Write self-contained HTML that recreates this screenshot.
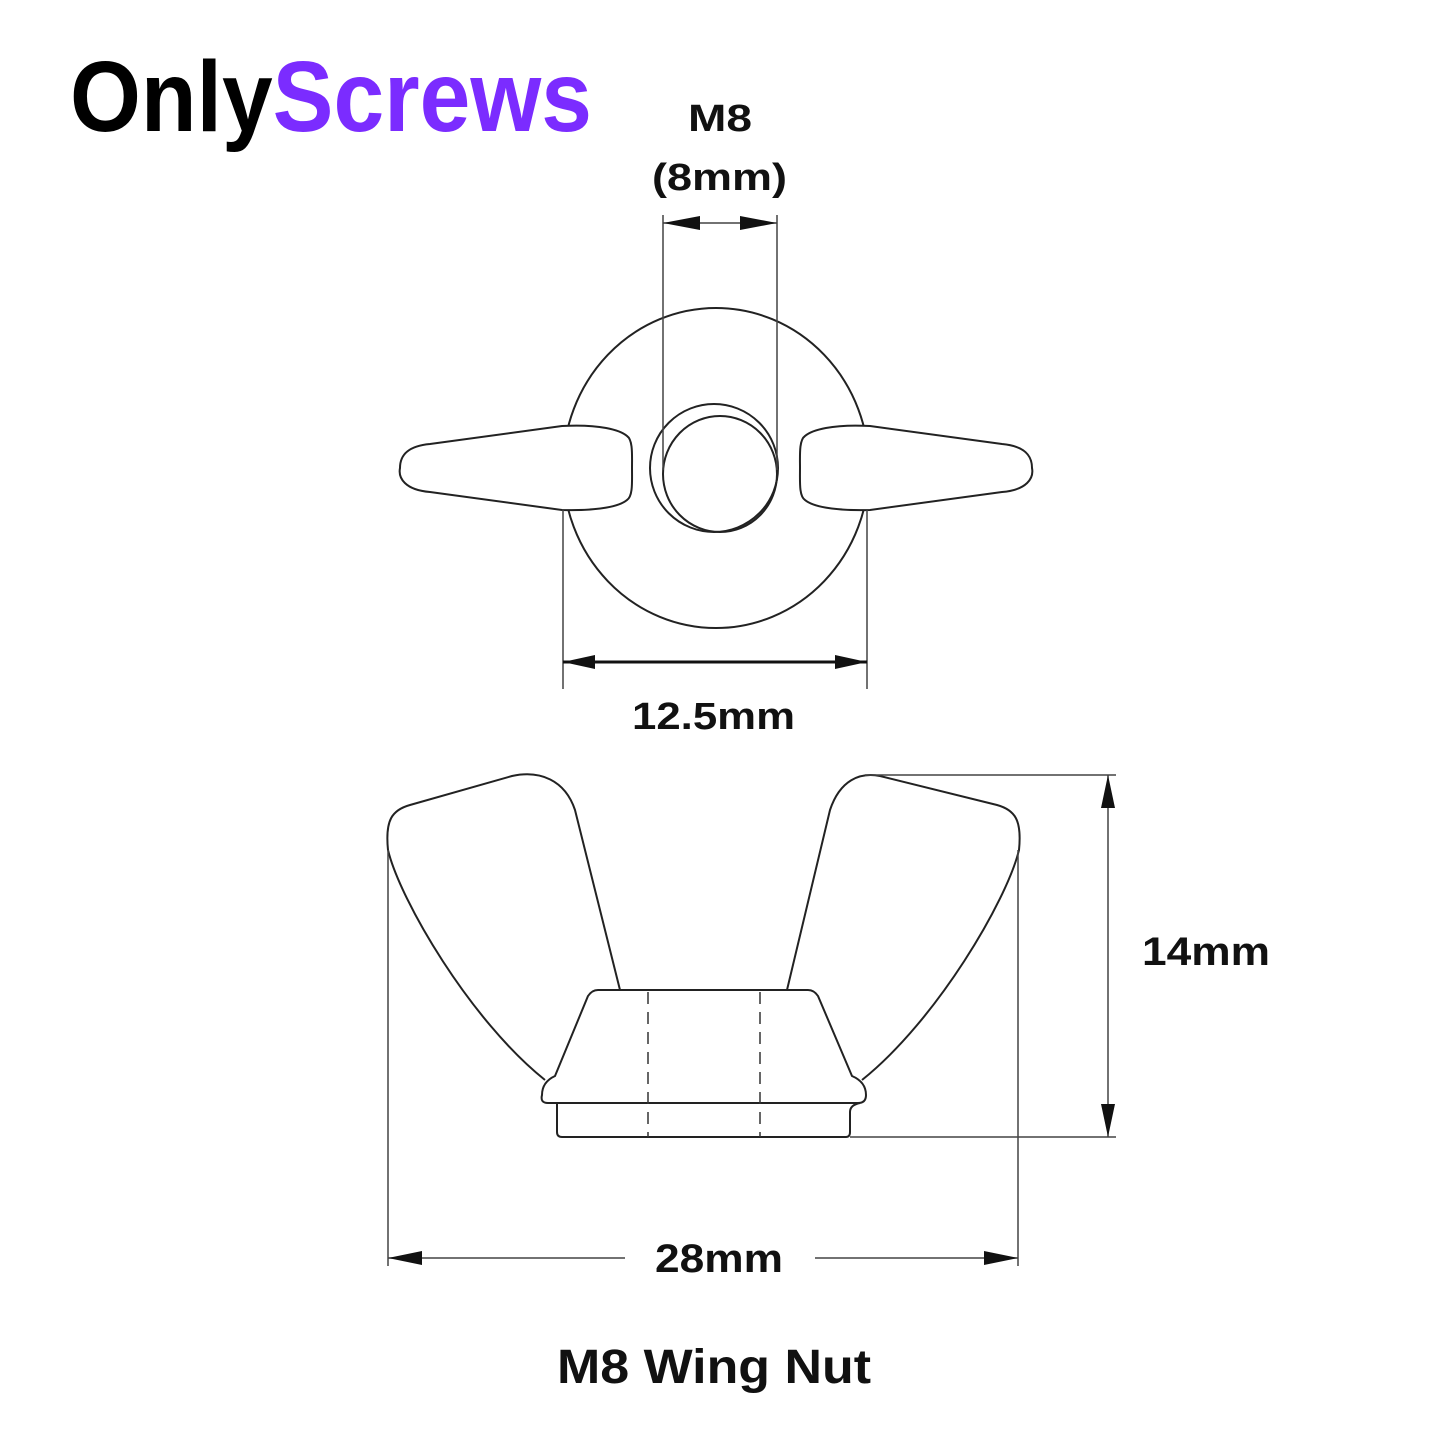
<!DOCTYPE html>
<html><head><meta charset="utf-8"><style>html,body{margin:0;padding:0;background:#fff}svg{display:block}</style></head>
<body>
<svg width="1445" height="1445" viewBox="0 0 1445 1445" xmlns="http://www.w3.org/2000/svg" font-family="Liberation Sans, sans-serif" font-weight="bold">
<rect width="1445" height="1445" fill="#fff"/>
<text x="70" y="131" font-size="100" textLength="522" lengthAdjust="spacingAndGlyphs"><tspan fill="#000">Only</tspan><tspan fill="#7B2CFF">Screws</tspan></text>
<g fill="#111" lengthAdjust="spacingAndGlyphs">
<text x="688" y="131" font-size="38" textLength="64" lengthAdjust="spacingAndGlyphs">M8</text>
<text x="652" y="190" font-size="38" textLength="135" lengthAdjust="spacingAndGlyphs">(8mm)</text>
<text x="632" y="729" font-size="38" textLength="163" lengthAdjust="spacingAndGlyphs">12.5mm</text>
<text x="655" y="1272" font-size="40" textLength="128" lengthAdjust="spacingAndGlyphs">28mm</text>
<text x="1142" y="965" font-size="40" textLength="128" lengthAdjust="spacingAndGlyphs">14mm</text>
<text x="557" y="1383" font-size="48" textLength="314" lengthAdjust="spacingAndGlyphs">M8 Wing Nut</text>
</g>
<g fill="none" stroke="#222" stroke-width="2">
<ellipse cx="716" cy="468" rx="153" ry="160"/>
<ellipse cx="714" cy="468" rx="64" ry="64"/>
<ellipse cx="720" cy="474" rx="57" ry="58"/>
<path d="M562 426 C600 424 620 430 627 436 C633 440 632 455 632 468 C632 482 633 496 627 500 C620 506 600 511 562 510 L430 492 C405 490 398 478 400 468 C400 455 408 446 430 444 Z" fill="#fff"/>
<path d="M870 426 C832 424 812 430 805 436 C799 440 800 455 800 468 C800 482 799 496 805 500 C812 506 832 511 870 510 L1002 492 C1027 490 1034 478 1032 468 C1032 455 1024 446 1002 444 Z" fill="#fff"/>
<path d="M545 1080 C470 1020 400 900 388 850 C385 820 392 810 410 805 L512 776 C540 770 565 780 575 810 L620 990"/>
<path d="M862 1080 C937 1020 1007 900 1019 850 C1022 820 1015 810 997 805 L880 776 C860 772 840 780 830 810 L787 990"/>
<path d="M598 990 L808 990 Q814 990 818 996 L852 1076 Q866 1082 866 1095 Q866 1103 858 1103 L548 1103 Q540 1103 542 1095 Q542 1082 555 1076 L588 996 Q592 990 598 990 Z"/>
<path d="M557 1103 L557 1132 Q557 1137 562 1137 L846 1137 Q850 1137 850 1132 L850 1112 Q850 1105 860 1103"/>
</g>
<g stroke="#333" stroke-width="1.5" stroke-dasharray="12 8" fill="none">
<line x1="648" y1="992" x2="648" y2="1137"/>
<line x1="760" y1="992" x2="760" y2="1137"/>
</g>
<g stroke="#444" stroke-width="1.5" fill="none">
<line x1="663" y1="215" x2="663" y2="470"/>
<line x1="777" y1="215" x2="777" y2="470"/>
<line x1="663" y1="223" x2="777" y2="223"/>
<line x1="563" y1="510" x2="563" y2="689"/>
<line x1="867" y1="510" x2="867" y2="689"/>
<line x1="388" y1="850" x2="388" y2="1266"/>
<line x1="1018" y1="850" x2="1018" y2="1266"/>
<line x1="388" y1="1258" x2="625" y2="1258"/>
<line x1="815" y1="1258" x2="1018" y2="1258"/>
<line x1="865" y1="775" x2="1116" y2="775"/>
<line x1="850" y1="1137" x2="1116" y2="1137"/>
<line x1="1108" y1="775" x2="1108" y2="1137"/>
</g>
<line x1="563" y1="662" x2="867" y2="662" stroke="#111" stroke-width="3"/>
<g fill="#111">
<polygon points="663,223 700,216 700,230"/>
<polygon points="777,223 740,216 740,230"/>
<polygon points="563,662 595,655 595,669"/>
<polygon points="867,662 835,655 835,669"/>
<polygon points="388,1258 422,1251 422,1265"/>
<polygon points="1018,1258 984,1251 984,1265"/>
<polygon points="1108,775 1101,808 1115,808"/>
<polygon points="1108,1137 1101,1104 1115,1104"/>
</g>
</svg>
</body></html>
